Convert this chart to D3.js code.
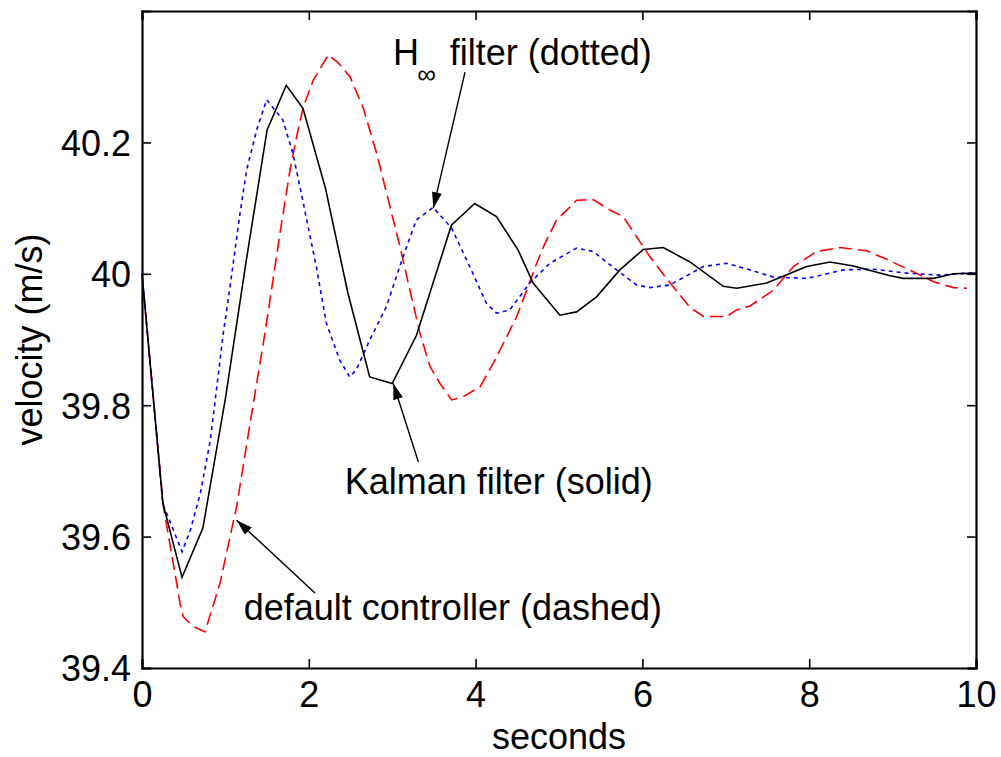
<!DOCTYPE html>
<html>
<head>
<meta charset="utf-8">
<script src="https://cdn.jsdelivr.net/npm/d3@7"></script>
<style>
  body { margin: 0; background: #fff; }
  svg text { font-family: "Liberation Sans", Arial, sans-serif; fill: #000; }
</style>
</head>
<body>
<div id="chart"></div>
<script>
// Datos
const xTicks = [0, 2, 4, 6, 8, 10];
const yTicks = [39.4, 39.6, 39.8, 40, 40.2];

// Kalman filter (solid, negro)
const kalmanT = [0, 0.25, 0.48, 0.73, 1.0, 1.25, 1.5, 1.73, 1.93, 2.2, 2.47, 2.73, 3.0, 3.29, 3.71, 3.99, 4.25, 4.51, 4.69, 5.01, 5.21, 5.45, 5.73, 6.01, 6.25, 6.57, 6.97, 7.13, 7.49, 7.97, 8.25, 8.53, 8.97, 9.13, 9.49, 9.73, 10];
const kalmanV = [40.0, 39.651, 39.538, 39.613, 39.81, 40.02, 40.219, 40.287, 40.252, 40.13, 39.97, 39.843, 39.833, 39.906, 40.074, 40.107, 40.087, 40.036, 39.986, 39.937, 39.942, 39.965, 40.006, 40.037, 40.04, 40.018, 39.981, 39.978, 39.986, 40.011, 40.018, 40.012, 39.997, 39.993, 39.993, 40.0, 40.001];

// H-infinity filter (dotted, azul)
const hinfT = [0, 0.25, 0.48, 0.58, 0.7, 0.82, 0.975, 1.055, 1.175, 1.255, 1.375, 1.495, 1.575, 1.69, 1.81, 1.93, 2.09, 2.21, 2.37, 2.49, 2.57, 2.73, 2.93, 3.13, 3.29, 3.49, 3.71, 3.93, 4.13, 4.25, 4.41, 4.65, 4.89, 5.21, 5.41, 5.69, 5.93, 6.09, 6.33, 6.73, 7.01, 7.29, 7.57, 7.97, 8.21, 8.41, 8.77, 9.17, 9.57, 10];
const hinfV = [40.0, 39.65, 39.577, 39.61, 39.666, 39.747, 39.91, 39.98, 40.092, 40.158, 40.219, 40.265, 40.252, 40.234, 40.183, 40.11, 40.011, 39.925, 39.869, 39.843, 39.854, 39.899, 39.95, 40.026, 40.082, 40.101, 40.07, 40.011, 39.955, 39.94, 39.945, 39.986, 40.016, 40.039, 40.034, 40.006, 39.983, 39.979, 39.983, 40.011, 40.016, 40.006, 39.995, 39.993, 40.0, 40.006, 40.007, 40.001, 39.998, 40.002];

// Default controller (dashed, rojo)
const defaultT = [0, 0.256, 0.416, 0.456, 0.495, 0.615, 0.755, 0.935, 1.135, 1.335, 1.475, 1.655, 1.775, 1.855, 1.934, 2.054, 2.234, 2.354, 2.494, 2.654, 2.814, 2.954, 3.094, 3.213, 3.333, 3.453, 3.573, 3.713, 3.853, 4.053, 4.213, 4.353, 4.493, 4.613, 4.733, 4.83, 4.973, 5.213, 5.41, 5.61, 5.77, 5.89, 6.09, 6.27, 6.57, 6.73, 7.01, 7.13, 7.29, 7.57, 7.81, 8.09, 8.37, 8.69, 8.93, 9.25, 9.49, 9.73, 9.89];
const defaultV = [40.0, 39.646, 39.529, 39.498, 39.478, 39.463, 39.455, 39.529, 39.646, 39.803, 39.91, 40.062, 40.158, 40.209, 40.254, 40.295, 40.333, 40.321, 40.3, 40.252, 40.183, 40.112, 40.041, 39.975, 39.909, 39.859, 39.833, 39.808, 39.813, 39.828, 39.864, 39.899, 39.935, 39.975, 40.016, 40.046, 40.082, 40.112, 40.113, 40.097, 40.087, 40.064, 40.026, 39.996, 39.949, 39.935, 39.935, 39.945, 39.951, 39.975, 40.011, 40.034, 40.04, 40.035, 40.022, 40.003, 39.988, 39.979, 39.978];

// Dimensiones
const W = 1001, H = 757;
const margin = { top: 11, right: 25, bottom: 89, left: 142 };
const width = W - margin.left - margin.right;
const height = H - margin.top - margin.bottom;
const fontSize = "36px";

const svg = d3.select("#chart").append("svg")
  .attr("width", W).attr("height", H);

const g = svg.append("g")
  .attr("transform", `translate(${margin.left},${margin.top})`);

const x = d3.scaleLinear().domain([0, 10]).range([0, width]);
const y = d3.scaleLinear().domain([39.4, 40.4]).range([height, 0]);

// Ejes (ticks hacia adentro, estilo MATLAB)
const tickLen = 9;

const xAxis = g.append("g").attr("transform", `translate(0,${height})`)
  .call(d3.axisBottom(x).tickValues(xTicks).tickSize(-tickLen).tickFormat(d3.format("d")));
const xTop = g.append("g")
  .call(d3.axisTop(x).tickValues(xTicks).tickSize(-tickLen).tickFormat(""));
const yAxis = g.append("g")
  .call(d3.axisLeft(y).tickValues(yTicks).tickSize(-tickLen).tickPadding(11).tickFormat(d => String(+d.toFixed(1))));
const yRight = g.append("g").attr("transform", `translate(${width},0)`)
  .call(d3.axisRight(y).tickValues(yTicks).tickSize(-tickLen).tickFormat(""));

[xAxis, xTop, yAxis, yRight].forEach(a => {
  a.select(".domain").attr("stroke", "#000").attr("stroke-width", 2.2);
  a.selectAll(".tick line").attr("stroke", "#000").attr("stroke-width", 1.6);
  a.selectAll("text").style("font-size", fontSize).attr("fill", "#000");
});
xAxis.selectAll("text").attr("y", 39).attr("dy", null);
yAxis.selectAll("text").attr("dy", "0.36em");

// Etiquetas de ejes
svg.append("text")
  .attr("x", margin.left + width / 2)
  .attr("y", 749)
  .attr("text-anchor", "middle")
  .style("font-size", fontSize)
  .text("seconds");

svg.append("text")
  .attr("transform", `translate(42,${margin.top + height / 2}) rotate(-90)`)
  .attr("text-anchor", "middle")
  .style("font-size", fontSize)
  .text("velocity (m/s)");

// Lineas
const series = [
  { t: defaultT, v: defaultV, color: "#ff0000", dash: "13,6" },
  { t: hinfT, v: hinfV, color: "#0000ff", dash: "4,4" },
  { t: kalmanT, v: kalmanV, color: "#000000", dash: null },
];

const line = d3.line().x(d => x(d[0])).y(d => y(d[1]));

series.forEach(s => {
  const pts = s.t.map((t, i) => [t, s.v[i]]);
  g.append("path")
    .datum(pts)
    .attr("fill", "none")
    .attr("stroke", s.color)
    .attr("stroke-width", 1.6)
    .attr("stroke-dasharray", s.dash)
    .attr("d", line);
});

// Anotaciones con flechas
svg.append("defs").append("marker")
  .attr("id", "arrow")
  .attr("viewBox", "0 0 16 10")
  .attr("refX", 16).attr("refY", 5)
  .attr("markerWidth", 16).attr("markerHeight", 10)
  .attr("markerUnits", "userSpaceOnUse")
  .attr("orient", "auto")
  .append("path")
  .attr("d", "M0,0 L16,5 L0,10 Z")
  .attr("fill", "#000");

const arrows = [
  { from: [3.873, 40.307], to: [3.493, 40.1] },
  { from: [3.313, 39.714], to: [3.013, 39.833] },
  { from: [2.074, 39.514], to: [1.135, 39.625] },
];

arrows.forEach(a => {
  g.append("line")
    .attr("x1", x(a.from[0])).attr("y1", y(a.from[1]))
    .attr("x2", x(a.to[0])).attr("y2", y(a.to[1]))
    .attr("stroke", "#000").attr("stroke-width", 1.4)
    .attr("marker-end", "url(#arrow)");
});

const labels = [
  { text: "H", tx: 3.01, ty: 40.318, size: fontSize },
  { text: "\u221E", tx: 3.3, ty: 40.29, size: "26px" },
  { text: "filter (dotted)", tx: 3.69, ty: 40.318, size: fontSize },
  { text: "Kalman filter (solid)", tx: 2.43, ty: 39.665, size: fontSize },
  { text: "default controller (dashed)", tx: 1.22, ty: 39.473, size: fontSize },
];

labels.forEach(l => {
  g.append("text")
    .attr("x", x(l.tx)).attr("y", y(l.ty))
    .style("font-size", l.size)
    .text(l.text);
});
</script>
</body>
</html>
